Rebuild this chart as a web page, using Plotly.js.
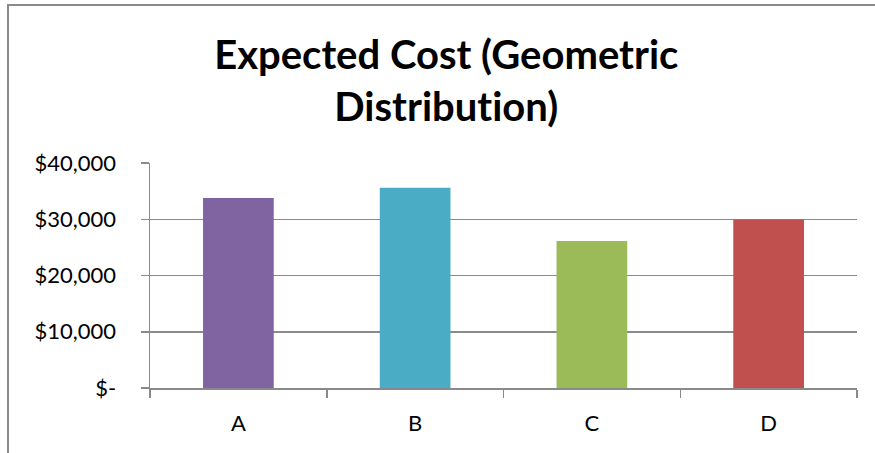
<!DOCTYPE html>
<html>
<head>
<meta charset="utf-8">
<script src="https://cdn.plot.ly/plotly-3.0.1.min.js"></script>
<style>
  html, body { margin: 0; padding: 0; background: #fff; }
  #wrap { position: relative; width: 875px; height: 453px; overflow: hidden; }
  #chart { position: absolute; left: 0; top: 0; width: 875px; height: 453px; }
  #chart text { font-variant-ligatures: none; font-feature-settings: "liga" 0; }
  /* chart-area frame: only the top and left edges fall inside the window */
  #frame { position: absolute; left: 7px; top: 4px; width: 900px; height: 500px;
           border-left: 2px solid #8a8a8a; border-top: 2px solid #8a8a8a;
           pointer-events: none; }
</style>
</head>
<body>
<div id="wrap">
  <div id="chart"></div>
  <div id="frame"></div>
</div>
<script>
// Expected cost per option under a geometric distribution
const categories = ["A", "B", "C", "D"];
const expectedCost = [33800, 35600, 26150, 29950];
const barColors = ["#8064A2", "#4BACC6", "#9BBB59", "#C0504D"];
const yTickValues = [0, 10000, 20000, 30000, 40000];
const yTickLabels = ["$-", "$10,000", "$20,000", "$30,000", "$40,000"];

const axisGray = "#8a8a8a";
const font = "Lato, 'Open Sans', 'DejaVu Sans', sans-serif";

const trace = {
  type: "bar",
  x: categories,
  y: expectedCost,
  marker: { color: barColors, line: { width: 0 } },
  hoverinfo: "x+y"
};

const layout = {
  width: 875,
  height: 453,
  margin: { l: 150, r: 18, t: 163, b: 65, pad: 0 },
  paper_bgcolor: "#ffffff",
  plot_bgcolor: "#ffffff",
  showlegend: false,
  bargap: 0.6,
  font: { family: font, color: "#000000", size: 22 },
  title: {
    text: "<b>Expected Cost (Geometric<br>Distribution)</b>",
    font: { family: font, size: 40, color: "#000000" },
    x: 0.510, xref: "container", xanchor: "center",
    y: 0.848, yref: "container", yanchor: "middle"
  },
  xaxis: {
    type: "category",
    showgrid: false,
    zeroline: false,
    showline: true,
    linecolor: axisGray,
    linewidth: 1.5,
    ticks: "outside",
    tickson: "boundaries",
    ticklen: 8,
    tickwidth: 1.5,
    tickcolor: axisGray,
    ticklabelstandoff: 15,
    tickfont: { family: font, size: 22, color: "#000000" }
  },
  yaxis: {
    range: [0, 40000],
    tickvals: yTickValues,
    ticktext: yTickLabels,
    showgrid: true,
    gridcolor: axisGray,
    gridwidth: 1.5,
    zeroline: false,
    showline: true,
    linecolor: axisGray,
    linewidth: 1.5,
    ticks: "outside",
    ticklen: 8,
    tickwidth: 1.5,
    tickcolor: axisGray,
    ticklabelstandoff: 20,
    tickfont: { family: font, size: 22, color: "#000000" }
  }
};

Plotly.newPlot("chart", [trace], layout, { displayModeBar: false, staticPlot: true });
</script>
</body>
</html>
